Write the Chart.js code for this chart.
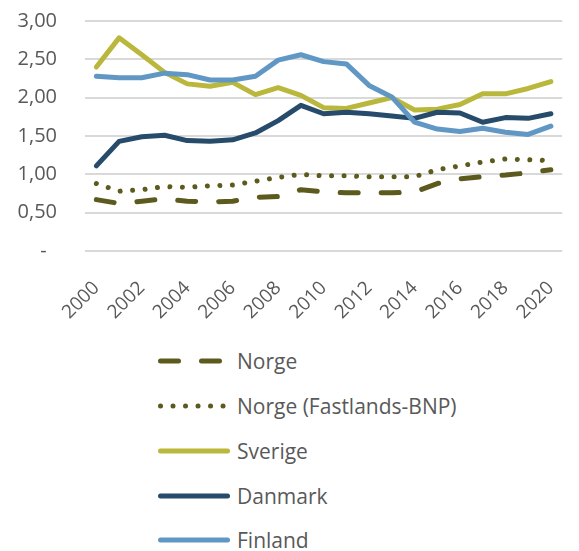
<!DOCTYPE html>
<html>
<head>
<meta charset="utf-8">
<script src="https://cdn.jsdelivr.net/npm/chart.js@4.4.0/dist/chart.umd.min.js"></script>
<style>
    html, body { margin: 0; padding: 0; background: #fff; overflow: hidden; width: 579px; height: 551px; }
    #wrap { position: relative; width: 585px; height: 330px; }
    #legend { position: absolute; left: 158px; top: 339px; font-family: 'Open Sans', sans-serif; font-size: 21px; color: #595959; }
    .row { height: 44.75px; display: flex; align-items: center; white-space: nowrap; }
    .row svg { width: 72px; height: 10px; margin-right: 7px; flex: none; }
</style>
</head>
<body>
<div id="wrap"><canvas id="chart" width="585" height="330"></canvas></div>
<div id="legend"></div>
<script>
// Daten
const years = ['2000', '2001', '2002', '2003', '2004', '2005', '2006', '2007', '2008', '2009', '2010',
               '2011', '2012', '2013', '2014', '2015', '2016', '2017', '2018', '2019', '2020'];
const norge    = [0.67, 0.62, 0.65, 0.68, 0.65, 0.64, 0.65, 0.70, 0.71, 0.80, 0.77, 0.76, 0.76, 0.76, 0.77, 0.88, 0.94, 0.97, 0.99, 1.02, 1.06];
const fastland = [0.88, 0.78, 0.80, 0.84, 0.83, 0.85, 0.86, 0.91, 0.96, 1.00, 0.98, 0.98, 0.97, 0.97, 0.97, 1.06, 1.11, 1.16, 1.20, 1.19, 1.18];
const sverige  = [2.40, 2.78, 2.56, 2.33, 2.18, 2.15, 2.20, 2.04, 2.13, 2.03, 1.87, 1.86, 1.93, 2.00, 1.84, 1.85, 1.91, 2.05, 2.05, 2.12, 2.21];
const danmark  = [1.11, 1.43, 1.49, 1.51, 1.44, 1.43, 1.45, 1.54, 1.70, 1.90, 1.79, 1.81, 1.79, 1.76, 1.73, 1.81, 1.80, 1.68, 1.74, 1.73, 1.79];
const finland  = [2.28, 2.26, 2.26, 2.32, 2.30, 2.23, 2.23, 2.28, 2.49, 2.56, 2.47, 2.44, 2.16, 2.01, 1.68, 1.59, 1.56, 1.60, 1.55, 1.52, 1.63];

const seriesNames = ['Norge', 'Norge (Fastlands-BNP)', 'Sverige', 'Danmark', 'Finland'];
const seriesColors = ['#5c5a1d', '#5c5a1d', '#bab83c', '#264b6b', '#6097c4'];
const seriesDash = [[18, 23], [0.01, 12.5], [], [], []];
const seriesData = [norge, fastland, sverige, danmark, finland];

const textColor = '#595959';
const fontFamily = "'Open Sans', sans-serif";

const datasets = seriesNames.map((name, i) => ({
    label: name,
    data: seriesData[i],
    borderColor: seriesColors[i],
    backgroundColor: seriesColors[i],
    borderWidth: 5,
    borderDash: seriesDash[i],
    borderCapStyle: 'round',
    borderJoinStyle: 'round',
    pointRadius: 0,
    tension: 0,
    fill: false,
    order: 5 - i // spätere Serien oben, wie in Excel
}));

const ctx = document.getElementById('chart').getContext('2d');
new Chart(ctx, {
    type: 'line',
    data: { labels: years, datasets: datasets },
    options: {
        responsive: false,
        animation: false,
        layout: { padding: { top: 21, right: 0, bottom: 0, left: 0 } },
        plugins: {
            legend: { display: false },
            tooltip: { enabled: false }
        },
        scales: {
            x: {
                offset: true,
                grid: { display: false },
                border: { display: false },
                afterFit: function(scale) { scale.height = 79; },
                ticks: {
                    autoSkip: false,
                    minRotation: 45,
                    maxRotation: 45,
                    padding: 18,
                    color: textColor,
                    font: { family: fontFamily, size: 19 },
                    callback: function(value, index) {
                        return index % 2 === 0 ? years[index] : '';
                    }
                }
            },
            y: {
                min: 0,
                max: 3,
                afterFit: function(scale) { scale.width = 85; },
                // unsichtbare Tick-Marks als Abstand zwischen Beschriftung und Plotfläche
                grid: { color: '#d9d9d9', lineWidth: 2, drawTicks: true, tickLength: 28, tickColor: 'rgba(0,0,0,0)' },
                border: { display: false },
                ticks: {
                    stepSize: 0.5,
                    padding: 0,
                    color: textColor,
                    font: { family: fontFamily, size: 20 },
                    callback: function(value) {
                        return value === 0 ? '-  ' : value.toFixed(2).replace('.', ',');
                    }
                }
            }
        }
    }
});

// Legende als HTML unter dem Diagramm
const legendBox = document.getElementById('legend');
seriesNames.forEach((name, i) => {
    const row = document.createElement('div');
    row.className = 'row';
    const dash = seriesDash[i].length ? `stroke-dasharray="${seriesDash[i].join(' ')}"` : '';
    row.innerHTML = `<svg viewBox="0 0 72 10"><line x1="2.5" y1="5" x2="69.5" y2="5" stroke="${seriesColors[i]}" stroke-width="5" stroke-linecap="round" ${dash}/></svg><span>${name}</span>`;
    legendBox.appendChild(row);
});
</script>
</body>
</html>
